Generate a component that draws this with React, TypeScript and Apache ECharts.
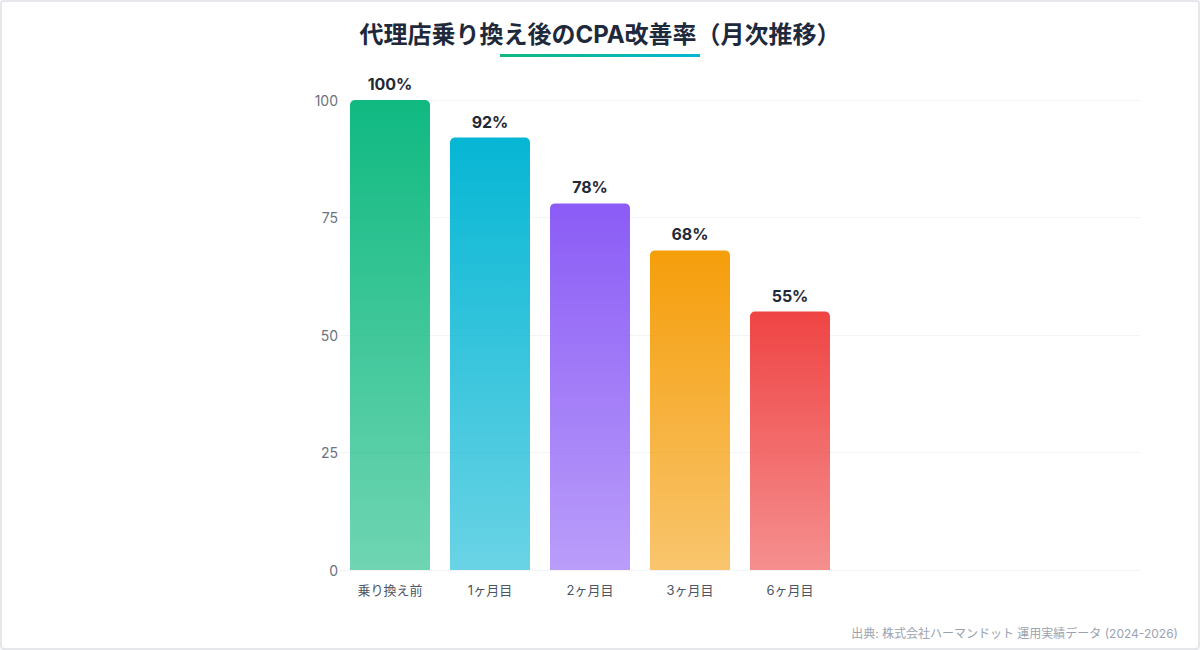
import React, { useEffect, useRef } from 'react';
import * as echarts from 'echarts';

const categories = ['乗り換え前', '1ヶ月目', '2ヶ月目', '3ヶ月目', '6ヶ月目', '', '', ''];
const cpaRates = [100, 92, 78, 68, 55];
const barColors = ['#10b981', '#06b6d4', '#8b5cf6', '#f59e0b', '#ef4444'];
const yTicks = { min: 0, max: 100, interval: 25 };

const FONT = 'Inter, "Noto Sans CJK JP", "Noto Sans", sans-serif';

// 60% の不透明度で下へフェード
const fade = (hex: string, a: number) => {
  const n = parseInt(hex.slice(1), 16);
  return `rgba(${(n >> 16) & 255},${(n >> 8) & 255},${n & 255},${a})`;
};

const App: React.FC = () => {
  const chartRef = useRef<HTMLDivElement>(null);

  useEffect(() => {
    if (!chartRef.current) return;
    const chart = echarts.init(chartRef.current, undefined, { renderer: 'svg' });

    const option: echarts.EChartsOption = {
      animation: false,
      backgroundColor: '#ffffff',
      textStyle: { fontFamily: FONT },
      title: {
        text: '代理店乗り換え後のCPA改善率（月次推移）',
        left: 'center',
        top: 17,
        textStyle: { fontSize: 24, fontWeight: 'bold', color: '#1e293b', fontFamily: FONT }
      },
      graphic: [
        {
          type: 'rect',
          left: 500,
          top: 54,
          shape: { width: 200, height: 3 },
          style: {
            fill: new echarts.graphic.LinearGradient(0, 0, 1, 0, [
              { offset: 0, color: '#10b981' },
              { offset: 1, color: '#06b6d4' }
            ])
          }
        },
        {
          type: 'text',
          right: 22,
          top: 627,
          style: {
            text: '出典: 株式会社ハーマンドット 運用実績データ (2024-2026)',
            fill: '#9ca3af',
            fontSize: 12,
            fontFamily: FONT
          }
        }
      ],
      grid: { left: 340, right: 60, top: 100, bottom: 80 },
      xAxis: {
        type: 'category',
        data: categories,
        axisLine: { show: false },
        axisTick: { show: false },
        axisLabel: { color: '#4b5563', fontSize: 13, margin: 13, fontFamily: FONT }
      },
      yAxis: {
        type: 'value',
        min: yTicks.min,
        max: yTicks.max,
        interval: yTicks.interval,
        axisLine: { show: false },
        axisTick: { show: false },
        axisLabel: { color: '#6b7280', fontSize: 14, margin: 2, fontFamily: FONT },
        splitLine: { lineStyle: { color: '#f3f4f6', width: 1 } }
      },
      series: [
        {
          type: 'bar',
          barWidth: 80,
          data: cpaRates.map((v, i) => ({
            value: v,
            itemStyle: {
              borderRadius: [5, 5, 0, 0],
              color: new echarts.graphic.LinearGradient(0, 0, 0, 1, [
                { offset: 0, color: barColors[i] },
                { offset: 1, color: fade(barColors[i], 0.6) }
              ])
            }
          })),
          label: {
            show: true,
            position: 'top',
            distance: 8,
            formatter: '{c}%',
            color: '#1f2937',
            fontSize: 16,
            fontWeight: 'bold',
            fontFamily: FONT
          }
        }
      ]
    };

    chart.setOption(option);
    return () => chart.dispose();
  }, []);

  return (
    <div style={{ position: 'fixed', left: 0, top: 0, width: 1200, height: 650 }}>
      <div ref={chartRef} style={{ width: 1200, height: 650 }} />
      <div
        style={{
          position: 'absolute',
          inset: 0,
          border: '2px solid #e5e7eb',
          borderRadius: 4,
          boxSizing: 'border-box',
          pointerEvents: 'none'
        }}
      />
    </div>
  );
};

export default App;
